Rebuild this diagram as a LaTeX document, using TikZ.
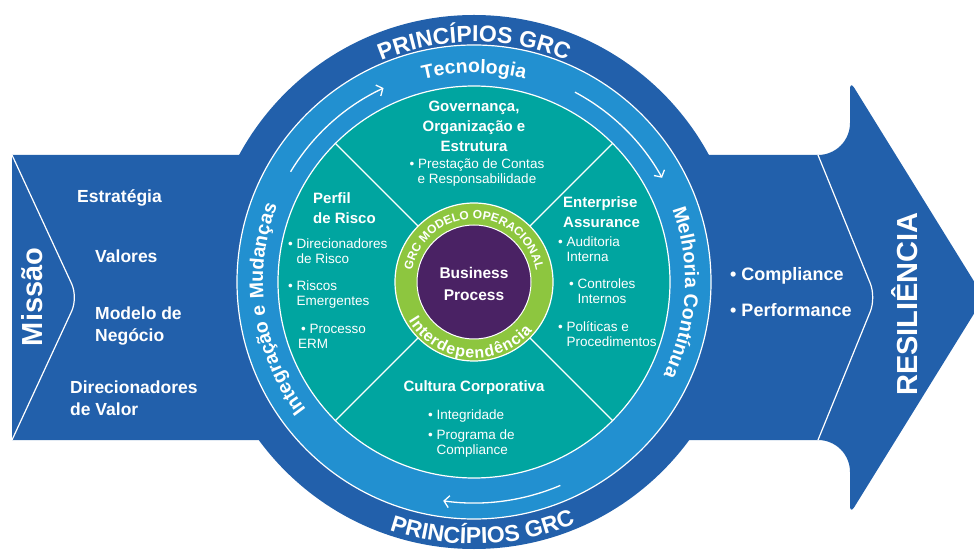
\documentclass[tikz,border=0pt]{standalone}
\usepackage{fontspec}
\setmainfont{Liberation Sans}
\usetikzlibrary{calc,decorations.text,arrows.meta}
\definecolor{grcdark}{RGB}{34,96,171}
\definecolor{grclight}{RGB}{34,144,208}
\definecolor{grcteal}{RGB}{0,165,160}
\definecolor{grcgreen}{RGB}{141,198,63}
\definecolor{grcpurple}{RGB}{74,34,100}
\newcommand{\fsz}[2]{\fontsize{#1}{#2}\selectfont}

\begin{document}
\begin{tikzpicture}[x=1pt, y=1pt,
    sidetext/.style={text=white, inner sep=0pt, font=\bfseries\fsz{17.5}{22}, align=left, anchor=west},
    sectorhead/.style={text=white, inner sep=0pt, font=\bfseries\fsz{15}{20}},
    bulletitem/.style={text=white, inner sep=0pt, font=\fsz{13.5}{15}, align=left, anchor=west},
    ringarrow/.style={white, line width=1.3pt, -{Straight Barb[length=5pt,width=12pt]}},
    arctext/.style={decorate, decoration={text along path, text align=center, text color=white, text={#1}}}]
    \useasboundingbox (0,0) rectangle (974,549);
    \coordinate (C) at (474,267);

    % Band with arrow head
    \fill[grcdark] (12,394) -- (818,394) arc[start angle=-90, end angle=0, radius=32]
      [rounded corners=8pt] -- (850,468) -- (984,251.5) -- (850,35) [sharp corners]
      -- (850,77) arc[start angle=0, end angle=90, radius=32] -- (12,109) -- cycle;
    \draw[white, line width=1.2pt, rounded corners=15pt] (12,394) -- (78,251.5) -- (12,109);
    \draw[white, line width=1.2pt, rounded corners=15pt] (818,394) -- (876,251.5) -- (818,109);

    % Rings
    \fill[grcdark] (C) circle[radius=267];
    \draw[white, line width=1.2pt, fill=grclight] (C) circle[radius=237];
    \draw[white, line width=1.2pt, fill=grcteal] (C) circle[radius=196];
    \foreach \a in {45,135,225,315}
      \draw[white, line width=1.3pt] ([shift={(\a:79)}]C) -- ([shift={(\a:196)}]C);
    \draw[white, line width=1.2pt, fill=grcgreen] (C) circle[radius=79];
    \draw[white, line width=1pt, fill=grcpurple] (C) circle[radius=57];

    % Arrows in the light ring
    \draw[ringarrow] ([shift={(149:214)}]C) arc[start angle=149, end angle=115, radius=214];
    \draw[ringarrow] ([shift={(62:215)}]C) arc[start angle=62, end angle=29, radius=215];
    \draw[ringarrow] ([shift={(-67:221)}]C) arc[start angle=-67, end angle=-98, radius=221];

    % Text along the rings
    \path[arctext={|\bfseries\fsz{23}{23}|PRINCÍPIOS GRC}]
      ([shift={(140:240)}]C) arc[start angle=140, end angle=40, radius=240];
    \path[arctext={|\bfseries\fsz{23}{23}|PRINCÍPIOS GRC}]
      ([shift={(-138:262)}]C) arc[start angle=-138, end angle=-38, radius=262];
    \path[arctext={|\bfseries\fsz{19.5}{19.5}|Tecnologia}]
      ([shift={(135:209)}]C) arc[start angle=135, end angle=45, radius=209];
    \path[arctext={|\bfseries\fsz{19.5}{19.5}|Melhoria Contínua}]
      ([shift={(42:211)}]C) arc[start angle=42, end angle=-48, radius=211];
    \path[arctext={|\bfseries\fsz{19.5}{19.5}|Integração e Mudanças}]
      ([shift={(233:211)}]C) arc[start angle=233, end angle=143, radius=211];
    \path[arctext={|\bfseries\fsz{12}{12}|GRC MODELO OPERACIONAL}]
      ([shift={(180:63)}]C) arc[start angle=180, end angle=0, radius=63];
    \path[decorate, decoration={text along path, text align=center, text color=white, raise=-7pt,
        text={|\bfseries\fsz{16}{16}|Interdependência}}]
      ([shift={(190:69)}]C) arc[start angle=190, end angle=341, radius=69];

    % Centre
    \node[text=white, font=\bfseries\fsz{15.5}{22}, align=center] (process) at (474,265) {Business\\Process};

    % Left side
    \node[sidetext, font=\bfseries\fsz{29}{29}, rotate=90, anchor=center] (mission) at (32,252) {Missão};
    \node[sidetext] (strategy) at (77,351) {Estratégia};
    \node[sidetext] (values) at (95,293) {Valores};
    \node[sidetext] (model) at (95,223) {Modelo de\\Negócio};
    \node[sidetext] (drivers) at (70,151) {Direcionadores\\de Valor};

    % Right side
    \node[sidetext, font=\bfseries\fsz{18}{22}] (compliance) at (730,273) {• Compliance};
    \node[sidetext, font=\bfseries\fsz{18}{22}] (performance) at (730,239) {• Performance};
    \node[sidetext, font=\bfseries\fsz{29}{29}, rotate=90, anchor=center] (resilience) at (905,245) {RESILIÊNCIA};

    % Top sector
    \node[sectorhead, align=center] (governance) at (474,423) {Governança,\\Organização e\\Estrutura};
    \node[bulletitem, align=center, anchor=center] (accountability) at (477,376) {• Prestação de Contas\\e Responsabilidade};

    % Left sector
    \node[sectorhead, align=left, anchor=west] (riskprofile) at (313,341) {Perfil\\de Risco};
    \node[bulletitem] (riskdrivers) at (288,297.5) {•\ Direcionadores\\\hphantom{•\ }de Risco};
    \node[bulletitem] (emerging) at (288,254.5) {•\ Riscos\\\hphantom{•\ }Emergentes};
    \node[bulletitem] (erm) at (298,213) {\hspace*{3pt}•\ Processo\\ERM};

    % Right sector
    \node[sectorhead, align=left, anchor=west] (assurance) at (563,337) {Enterprise\\Assurance};
    \node[bulletitem] (audit) at (558,299.5) {•\ Auditoria\\\hphantom{•\ }Interna};
    \node[bulletitem] (controls) at (569,258) {•\ Controles\\\hphantom{•\ }Internos};
    \node[bulletitem] (policies) at (558,215) {•\ Políticas e\\\hphantom{•\ }Procedimentos};

    % Bottom sector
    \node[sectorhead] (culture) at (474,161) {Cultura Corporativa};
    \node[bulletitem] (integrity) at (428,133) {•\ Integridade};
    \node[bulletitem] (programme) at (428,105) {•\ Programa de\\\hphantom{•\ }Compliance};
  \end{tikzpicture}
\end{document}
